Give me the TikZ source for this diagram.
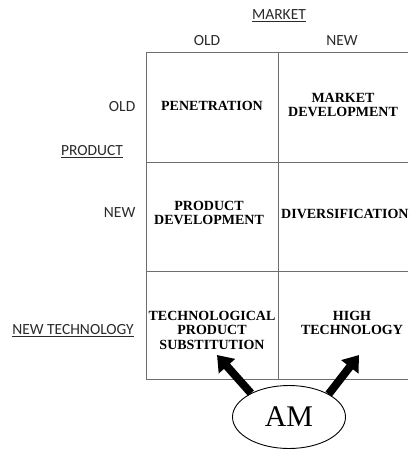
\documentclass[tikz,border=0pt]{standalone}
\usepackage{fontspec}
\setmainfont{Liberation Serif}
\newfontfamily\labfont{Carlito}
\usetikzlibrary{arrows.meta,shapes.geometric}
\definecolor{gridgray}{HTML}{6E6E6E}
\definecolor{labgray}{HTML}{2A2A2A}
\tikzset{
  gridline/.style={draw=gridgray, line width=1pt},
  lab/.style={font=\labfont\fontsize{15.5}{17}\selectfont, text=labgray, inner sep=0pt},
  cell/.style={font=\bfseries\fontsize{14}{14.5}\selectfont, align=center, inner sep=0pt},
  bigarrow/.style={line width=8pt, -{Triangle[width=21pt,length=15pt]}}
}
\begin{document}
\begin{tikzpicture}[x=1pt,y=-1pt]
\useasboundingbox (0,0) rectangle (408,450);
% grid
\draw[gridline] (146,52) -- (408,52);
\draw[gridline] (146,162) -- (408,162);
\draw[gridline] (146,271) -- (408,271);
\draw[gridline] (146,379) -- (408,379);
\draw[gridline] (146,52) -- (146,379);
\draw[gridline] (278,52) -- (278,379);
% labels
\node[lab] (market) at (279,16) {\underline{MARKET}};
\node[lab] (mold) at (207,41) {OLD};
\node[lab] (mnew) at (342,41) {NEW};
\node[lab, anchor=east] (pold) at (135.5,107) {OLD};
\node[lab] (product) at (92,152) {\underline{PRODUCT}};
\node[lab, anchor=east] (pnew) at (135.5,213) {NEW};
\node[lab, anchor=east] (pnt) at (134,331) {\underline{NEW TECHNOLOGY}};
% cells
\node[cell] (pen) at (212,106) {PENETRATION};
\node[cell] (mdev) at (343,105) {MARKET\\DEVELOPMENT};
\node[cell] (pdev) at (209,213) {PRODUCT\\DEVELOPMENT};
\node[cell, anchor=west] (div) at (281,214) {DIVERSIFICATION};
\node[cell] (tps) at (212,330) {TECHNOLOGICAL\\PRODUCT\\SUBSTITUTION};
\node[cell] (ht) at (352,323) {HIGH\\TECHNOLOGY};
% AM
\node[draw, ellipse, line width=0.9pt, minimum width=113pt, minimum height=63pt, inner sep=0pt,
      font=\fontsize{30}{32}\selectfont] (am) at (289,417) {AM};
\coordinate (tipL) at (217,355);
\coordinate (tipR) at (359,355);
\draw[bigarrow] (am.148) -- (tipL);
\draw[bigarrow] (am.30) -- (tipR);
\end{tikzpicture}
\end{document}
